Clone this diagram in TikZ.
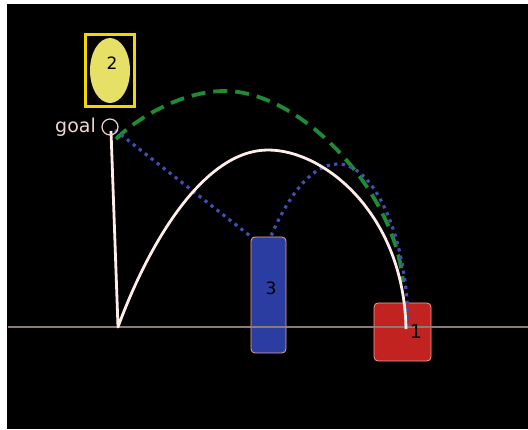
\documentclass[tikz,border=0pt]{standalone}
\usepackage{fontspec}
\setmainfont{DejaVu Sans}
\usetikzlibrary{shapes.geometric}
\definecolor{bgblack}{HTML}{000000}
\definecolor{ylfill}{HTML}{E6E066}
\definecolor{ylborder}{HTML}{F2D600}
\definecolor{blfill}{HTML}{2C3DA2}
\definecolor{rdfill}{HTML}{C02320}
\definecolor{boxedge}{HTML}{E8A89A}
\definecolor{trail}{HTML}{FFEDEA}
\definecolor{grn}{HTML}{1E8C34}
\definecolor{dotblue}{HTML}{3F4FB4}
\definecolor{groundc}{HTML}{8C7A76}
\definecolor{goaltxt}{HTML}{EED6CE}
\tikzset{
  block/.style={draw=boxedge, line width=0.8pt, rounded corners=4pt},
  lbl/.style={font=\fontsize{17}{17}\selectfont, text=black},
  whitepath/.style={draw=trail, line width=2.8pt, line join=round},
  greenpath/.style={draw=grn, line width=3.8pt, dash pattern=on 14pt off 8pt},
  bluepath/.style={draw=dotblue, line width=3.2pt, dash pattern=on 3.2pt off 4.4pt},
}
\begin{document}
\begin{tikzpicture}[x=1pt,y=-1pt]
\useasboundingbox (0,0) rectangle (528,430);
\fill[white] (0,0) rectangle (528,430);
\fill[bgblack] (7,4) rectangle (528,429);
% blocks
\node[block, fill=rdfill, minimum width=57pt, minimum height=58pt, inner sep=0pt] (b1) at (402.5,332) {};
\node[draw=ylborder, line width=3pt, fill=bgblack, minimum width=49pt, minimum height=72pt, inner sep=0pt] (b2) at (110,70.5) {};
\node[ellipse, fill=ylfill, minimum width=40pt, minimum height=65pt, inner sep=0pt] (e2) at (110,70.5) {};
% ground
\coordinate (gl) at (8,327);
\coordinate (gr) at (528,327);
\draw[groundc, line width=1.2pt] (gl) -- (gr);
% goal and path points
\coordinate (goal) at (110,127);
\coordinate (g0) at (111,131);
\coordinate (bounce) at (118,327);
\coordinate (peak) at (268,150);
\coordinate (land) at (406,329);
\coordinate (gs) at (116,139);
\coordinate (gpk) at (225,91);
\coordinate (ge) at (403,282);
\coordinate (bs) at (115,130);
\coordinate (bc) at (254,239);
\coordinate (bm) at (266,248);
\coordinate (bpk) at (338,164);
\coordinate (be) at (408,326);
% trajectories
\draw[greenpath] (gs) .. controls (135,120) and (180,91) .. (gpk) .. controls (300,91) and (395,190) .. (ge);
\draw[bluepath] (bs) -- (bc) -- (bm) .. controls (285,200) and (310,164) .. (bpk) .. controls (375,164) and (408,240) .. (be);
\draw[whitepath] (g0) -- (bounce) .. controls (150,240) and (205,150) .. (peak) .. controls (325,150) and (404,215) .. (land);
% block 3 drawn over the dotted joint
\node[block, fill=blfill, minimum width=35pt, minimum height=116pt, inner sep=0pt] (b3) at (268.5,295) {};
\coordinate (b3l) at (251,327);
\coordinate (b3r) at (286,327);
\draw[groundc, line width=1.2pt] (b3l) -- (b3r);
% goal marker
\node[draw=goaltxt, circle, line width=1.2pt, minimum size=16pt, inner sep=0pt] (gc) at (goal) {};
\node[anchor=east, text=goaltxt, font=\fontsize{19}{19}\selectfont, inner sep=0pt] (gt) at (96,127) {goal};
% labels
\node[lbl] (t2) at (112,63) {2};
\node[lbl] (t3) at (271,288) {3};
\node[lbl, font=\fontsize{19}{19}\selectfont] (t1) at (416,332) {1};
\end{tikzpicture}
\end{document}
